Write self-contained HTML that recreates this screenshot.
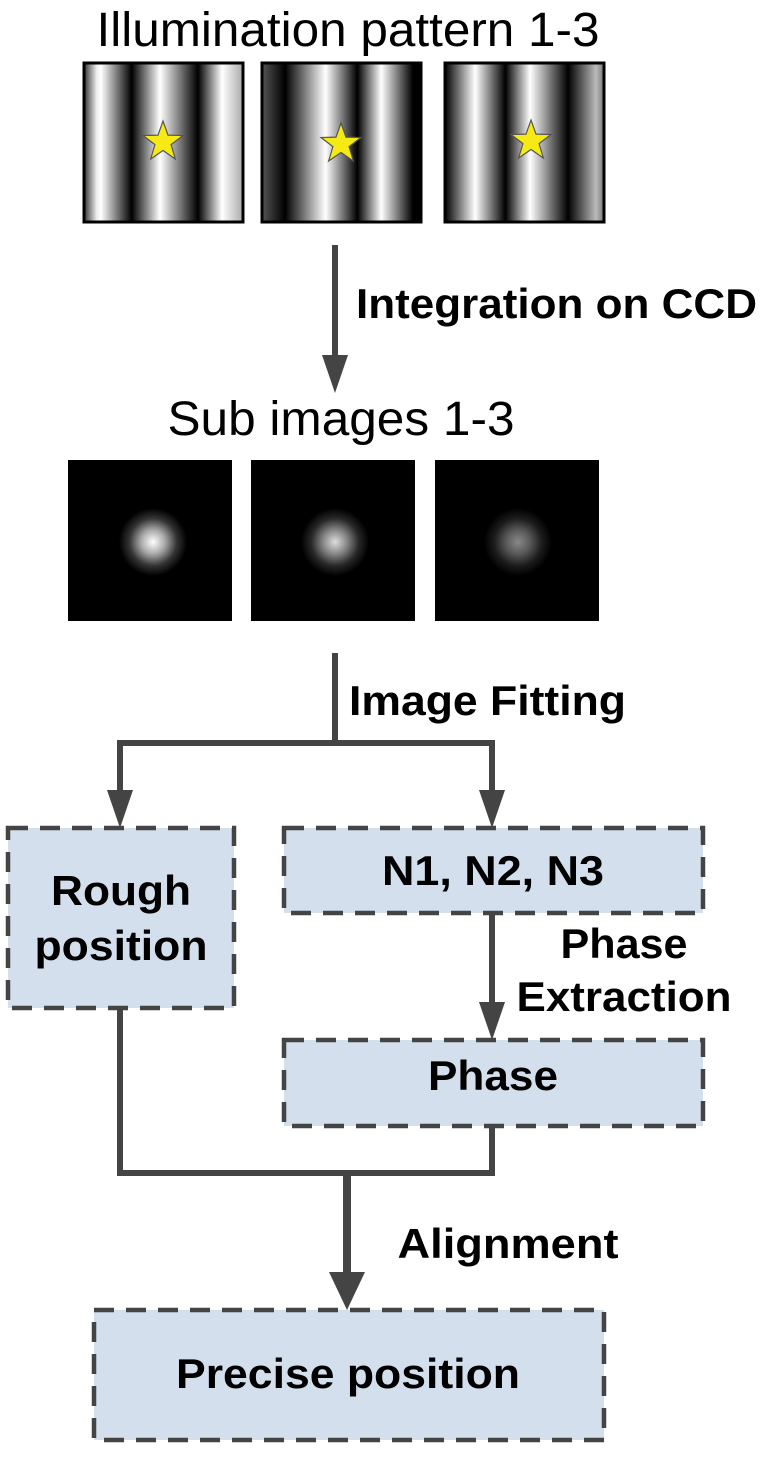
<!DOCTYPE html>
<html><head><meta charset="utf-8"><style>
html,body{margin:0;padding:0;background:#fff;}
svg{display:block;}
text{font-family:"Liberation Sans",Arial,sans-serif;fill:#000;}
</style></head><body>
<svg width="774" height="1462" viewBox="0 0 774 1462" xmlns="http://www.w3.org/2000/svg">
<defs>
<linearGradient id="g1" gradientUnits="userSpaceOnUse" x1="84" y1="0" x2="243" y2="0">
<stop offset="0" stop-color="#333"/><stop offset="0.08" stop-color="#eee"/><stop offset="0.107" stop-color="#fff"/><stop offset="0.30" stop-color="#000"/><stop offset="0.478" stop-color="#fff"/><stop offset="0.717" stop-color="#000"/><stop offset="0.868" stop-color="#fff"/><stop offset="1" stop-color="#aaa"/>
</linearGradient>
<linearGradient id="g2" gradientUnits="userSpaceOnUse" x1="262" y1="0" x2="421" y2="0">
<stop offset="0" stop-color="#555"/><stop offset="0.145" stop-color="#000"/><stop offset="0.40" stop-color="#fff"/><stop offset="0.60" stop-color="#000"/><stop offset="0.75" stop-color="#fff"/><stop offset="0.95" stop-color="#000"/><stop offset="1" stop-color="#000"/>
</linearGradient>
<linearGradient id="g3" gradientUnits="userSpaceOnUse" x1="445" y1="0" x2="604" y2="0">
<stop offset="0" stop-color="#000"/><stop offset="0.19" stop-color="#fff"/><stop offset="0.38" stop-color="#000"/><stop offset="0.535" stop-color="#fff"/><stop offset="0.774" stop-color="#000"/><stop offset="0.95" stop-color="#bbb"/><stop offset="1" stop-color="#777"/>
</linearGradient>
<radialGradient id="b1"><stop offset="0" stop-color="#fff"/><stop offset="0.35" stop-color="#aaa"/><stop offset="0.7" stop-color="#333"/><stop offset="1" stop-color="#000"/></radialGradient>
<radialGradient id="b2"><stop offset="0" stop-color="#ddd"/><stop offset="0.35" stop-color="#888"/><stop offset="0.7" stop-color="#282828"/><stop offset="1" stop-color="#000"/></radialGradient>
<radialGradient id="b3"><stop offset="0" stop-color="#888"/><stop offset="0.35" stop-color="#5a5a5a"/><stop offset="0.7" stop-color="#1c1c1c"/><stop offset="1" stop-color="#000"/></radialGradient>
<polygon id="star" points="0,-21 5,-6.88 19.97,-6.49 8.08,2.63 12.34,16.99 0,8.5 -12.34,16.99 -8.08,2.63 -19.97,-6.49 -5,-6.88" fill="#f5ea14" stroke="#555" stroke-width="1.2"/>
</defs>

<text x="348" y="46" font-size="48" text-anchor="middle" textLength="503" lengthAdjust="spacingAndGlyphs">Illumination pattern 1-3</text>

<rect x="84" y="63" width="159" height="159" fill="url(#g1)" stroke="#000" stroke-width="3"/>
<rect x="262" y="63" width="159" height="159" fill="url(#g2)" stroke="#000" stroke-width="3"/>
<rect x="445" y="63" width="159" height="159" fill="url(#g3)" stroke="#000" stroke-width="3"/>
<use href="#star" x="163" y="142"/>
<use href="#star" x="341" y="144"/>
<use href="#star" x="531" y="141"/>

<line x1="335" y1="245" x2="335" y2="360" stroke="#444" stroke-width="6"/>
<polygon points="322,355 348,355 335,393" fill="#444"/>
<text x="356" y="318" font-size="42" font-weight="bold" textLength="401" lengthAdjust="spacingAndGlyphs">Integration on CCD</text>

<text x="341" y="435" font-size="48" text-anchor="middle" textLength="347" lengthAdjust="spacingAndGlyphs">Sub images 1-3</text>

<rect x="68" y="460" width="164" height="161" fill="#000"/>
<rect x="251" y="460" width="164" height="161" fill="#000"/>
<rect x="435" y="460" width="164" height="161" fill="#000"/>
<circle cx="153" cy="542" r="34" fill="url(#b1)"/>
<circle cx="335" cy="542" r="34" fill="url(#b2)"/>
<circle cx="518" cy="542" r="34" fill="url(#b3)"/>

<g stroke="#444" stroke-width="6" fill="none">
<line x1="335" y1="653" x2="335" y2="743"/>
<polyline points="120,795 120,743 492,743 492,795"/>
<line x1="492" y1="913" x2="492" y2="1005"/>
<polyline points="120,1008 120,1173 492,1173 492,1126"/>
</g>
<polygon points="107,790 133,790 120,828" fill="#444"/>
<polygon points="479,790 505,790 492,828" fill="#444"/>
<polygon points="479,1002 505,1002 492,1040" fill="#444"/>
<text x="349" y="715" font-size="42" font-weight="bold" textLength="277" lengthAdjust="spacingAndGlyphs">Image Fitting</text>

<g fill="#d3dfec" stroke="#444" stroke-width="4.5" stroke-dasharray="20,12">
<rect x="8" y="828" width="226" height="180"/>
<rect x="284" y="828" width="419" height="85"/>
<rect x="284" y="1040" width="419" height="86"/>
<rect x="94" y="1310" width="510" height="130"/>
</g>

<g font-weight="bold" text-anchor="middle" font-size="42">
<text x="121" y="905" textLength="140" lengthAdjust="spacingAndGlyphs">Rough</text>
<text x="121" y="960" textLength="173" lengthAdjust="spacingAndGlyphs">position</text>
<text x="493" y="885" textLength="222" lengthAdjust="spacingAndGlyphs">N1, N2, N3</text>
<text x="624" y="958" textLength="127" lengthAdjust="spacingAndGlyphs">Phase</text>
<text x="624" y="1011" textLength="215" lengthAdjust="spacingAndGlyphs">Extraction</text>
<text x="493" y="1090" textLength="130" lengthAdjust="spacingAndGlyphs">Phase</text>
<text x="508" y="1258" textLength="221" lengthAdjust="spacingAndGlyphs">Alignment</text>
<text x="348" y="1388" textLength="344" lengthAdjust="spacingAndGlyphs">Precise position</text>
</g>

<line x1="347" y1="1170" x2="347" y2="1280" stroke="#444" stroke-width="8"/>
<polygon points="329,1272 365,1272 347,1310" fill="#444"/>
</svg>
</body></html>
